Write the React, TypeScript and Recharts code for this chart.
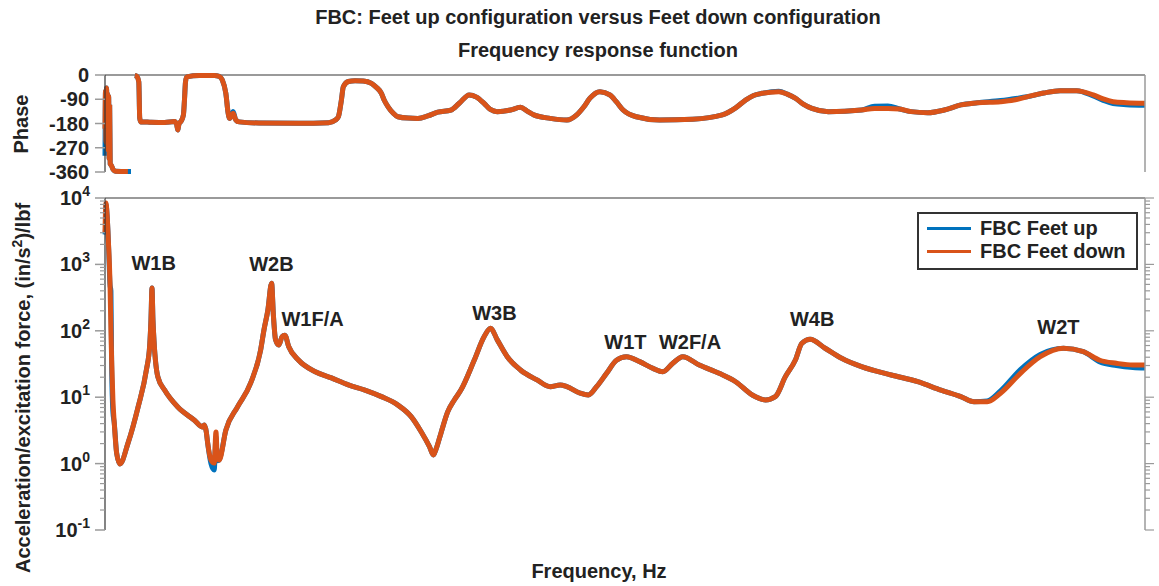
import React from "react";
import {
  LineChart,
  Line,
  XAxis,
  YAxis,
  ReferenceLine,
  ReferenceDot,
  Legend,
} from "recharts";

const FONT = '"Liberation Sans", Arial, Helvetica, sans-serif';
const BLUE = "#0072BD";
const ORANGE = "#D95319";
const FRAME = "#9a9a9a";
const INK = "#222";

// magnitude, (in/s^2)/lbf vs frequency
const magFreq = [
  0, 0.5, 1, 2, 3.2, 4.8, 5.7, 6.4, 7.6, 8.9,
  11.2, 14.3, 22.2, 31.8, 39.8, 43, 44.2, 45.2, 46.1, 47.1,
  50.9, 57.3, 70, 86, 93.9, 95.5, 97.4, 98.7, 101.9, 105,
  106.7, 107.9, 109.8, 116.2, 127.3, 140.1, 149.6, 152.8, 156.6, 160.2,
  161.9, 164, 167.1, 170.3, 172.9, 176.7, 186.2, 202.2, 217.7, 234,
  249.9, 265.8, 281.7, 294.4, 304, 312, 315.8, 318, 323.1, 329.5,
  335.9, 342.2, 355, 364.5, 370.8, 377.2, 386.8, 399.5, 415.4, 428.1,
  437.7, 444.1, 456.8, 464.8, 472.7, 482.3, 491.8, 501.4, 514.1, 526.9,
  536.4, 546, 555.5, 571.4, 590.5, 606.4, 622.4, 635.1, 644.6, 654.2,
  663.7, 670.1, 678, 692.4, 708.3, 727.4, 756, 781.5, 803.8, 822.9,
  835.6, 848.3, 861.1, 880.2, 899.3, 921.6, 940.7, 956.6, 972.5, 988.4,
  1000,
];
const magDown = [
  3080, 6600, 8400, 5540, 2330, 525, 103, 36, 9.1, 4.1,
  1.44, 0.99, 2.05, 7.1, 25.7, 61, 146, 440, 146, 72,
  20, 12.8, 7.1, 4.5, 3.56, 3.8, 3.0, 2.05, 1.13, 1.02,
  3.0, 1.35, 1.13, 3.2, 7.1, 16.4, 51, 102, 205, 520,
  173, 73, 61, 81.5, 86, 57.5, 36, 24.2, 19.5, 15.3,
  12.8, 10.2, 7.6, 5.1, 3.02, 1.8, 1.35, 1.6, 2.9, 6.0,
  9.1, 12.8, 36, 81.5, 109, 73, 40.7, 25.7, 18.2, 14.4,
  15.3, 14.4, 11.5, 10.8, 14.4, 22.9, 36, 40.7, 34.3, 27.2,
  24.2, 32.4, 40.7, 30.5, 22.9, 17.1, 10.8, 9.1, 10.2, 20.4,
  36, 64.9, 74.5, 54.6, 38.5, 28.8, 21.6, 17.1, 12.8, 10.2,
  8.55, 8.55, 11.5, 22.9, 40.7, 54.6, 48.4, 36, 32.4, 30.5,
  30.5,
];
const magUp = [
  2800, 3500, 8000, 5540, 2330, 500, 400, 30, 6, 4.1,
  1.44, 0.99, 2.05, 7.1, 25.7, 61, 146, 440, 146, 72,
  20, 12.8, 7.1, 4.5, 3.56, 3.8, 3.0, 2.05, 1.0, 0.8,
  2.5, 1.1, 1.13, 3.2, 7.1, 16.4, 51, 102, 205, 520,
  173, 73, 61, 81.5, 86, 57.5, 36, 24.2, 19.5, 15.3,
  12.8, 10.2, 7.6, 5.1, 3.02, 1.8, 1.35, 1.6, 2.9, 6.0,
  9.1, 12.8, 36, 81.5, 109, 73, 40.7, 25.7, 18.2, 14.4,
  15.3, 14.4, 11.5, 10.8, 14.4, 22.9, 36, 40.7, 34.3, 27.2,
  24.2, 32.4, 40.7, 30.5, 22.9, 17.1, 10.8, 9.1, 10.2, 20.4,
  36, 64.9, 74.5, 54.6, 38.5, 28.8, 21.6, 17.1, 12.8, 10.2,
  8.55, 8.8, 12.5, 26, 44, 54.6, 48.4, 34, 30, 28,
  27.5,
];

// phase, degrees (null = gap in the trace)
const phaseFreq = [
  0, 0.5, 1, 1.5, 2, 2.5, 3, 3.5, 4, 4.5,
  5, 6, 8, 10, 22, 25, 27.5, 28.7, 30.6, 32.5,
  33.4, 34.4, 43, 57.3, 66.8, 68.8, 70, 71.1, 73.2, 75.4,
  76.4, 77.4, 78.6, 90.7, 105, 109.8, 112.7, 116.2, 118.4, 119.8,
  121.8, 123.2, 125.8, 129, 148, 186, 215, 221.6, 224.4, 227.3,
  229.2, 234, 240.4, 248.3, 256.2, 260.7, 265.8, 268.4, 272.2, 277,
  281.7, 291.3, 300.8, 310.4, 320, 332.6, 340.9, 350.2, 357.2, 364.5,
  370.5, 377.2, 389.9, 399.5, 405.9, 412.3, 428.1, 444.1, 453.6, 460.3,
  466.3, 475.9, 485.4, 491.8, 498.2, 510.9, 533.2, 565, 593.6, 606.4,
  615.9, 623.6, 631.9, 647.8, 656, 663.7, 671.4, 679.7, 695.5, 727.4,
  740, 752.8, 764, 775.2, 791, 807, 822.9, 838.8, 861.1, 873.8,
  886.5, 902.5, 918.4, 934.3, 950.2, 959.8, 969.3, 982, 1000,
];
const phaseDown = [
  -200, -60, -250, -48, -230, -70, -280, -80, -310, -120,
  -330, -335, -352, -357, -358, null, null, -2, -5, -26,
  -160, -174, -175, -176, -173, -182, -204, -182, -171, -148,
  -93, -26, -7, -2, -2, -5, -18, -68, -141, -161,
  -152, -142, -167, -174, -178, -179, -177, -167, -155, -93,
  -43, -24, -21, -22, -31, -45, -68, -93, -118, -141,
  -155, -160, -161, -152, -138, -130, -104, -74, -82, -105,
  -128, -136, -130, -120, -134, -148, -161, -167, -148, -119,
  -86, -62, -74, -100, -130, -155, -167, -164, -148, -122,
  -93, -76, -68, -62, -71, -86, -108, -124, -136, -130,
  -124, -124, -126, -136, -140, -130, -111, -103, -99, -93,
  -81, -67, -58, -58, -74, -89, -99, -103, -105,
];
const phaseUp = [
  -300, -60, -290, -48, -230, -70, -280, -80, -310, -120,
  -330, -335, -352, -357, -358, -358, null, -2, -5, -26,
  -160, -174, -175, -176, -173, -182, -204, -182, -171, -148,
  -93, -26, -7, -2, -2, -5, -18, -68, -141, -161,
  -150, -135, -167, -174, -178, -179, -177, -167, -155, -93,
  -43, -24, -21, -22, -31, -45, -68, -93, -118, -141,
  -155, -160, -161, -152, -138, -130, -104, -74, -82, -105,
  -128, -136, -130, -120, -134, -148, -161, -167, -148, -119,
  -86, -62, -74, -100, -130, -155, -167, -164, -148, -122,
  -93, -76, -68, -60, -71, -86, -108, -124, -136, -130,
  -116, -115, -126, -136, -140, -130, -111, -103, -95, -88,
  -81, -67, -58, -58, -78, -94, -106, -110, -112,
];

const seriesNames = ["FBC Feet up", "FBC Feet down"];
const phaseTicks = [-360, -270, -180, -90, 0];
const magMajor = [0.1, 1, 10, 100, 1000, 10000];
const magMinor = [
  0.2, 0.3, 0.4, 0.5, 0.6, 0.7, 0.8, 0.9,
  2, 3, 4, 5, 6, 7, 8, 9,
  20, 30, 40, 50, 60, 70, 80, 90,
  200, 300, 400, 500, 600, 700, 800, 900,
  2000, 3000, 4000, 5000, 6000, 7000, 8000, 9000,
];

// mode labels: name, frequency, height on the magnitude axis
const modeNames = ["W1B", "W2B", "W1F/A", "W3B", "W1T", "W2F/A", "W4B", "W2T"];
const modeFreq = [46.8, 160, 199.6, 374.4, 500.4, 562.5, 680, 916.8];
const modeLevel = [1070, 1030, 151, 189, 69, 69, 153, 116];

const magRows = magFreq.map((f, i) => ({ f, up: magUp[i], down: magDown[i] }));
const phaseRows = phaseFreq.map((f, i) => ({ f, up: phaseUp[i], down: phaseDown[i] }));

const txt = { fontFamily: FONT, fontWeight: "bold" as const, fill: INK };

function PhaseTickLeft({ x, y, payload }: any) {
  return (
    <g>
      <line x1={x - 10} y1={y} x2={x} y2={y} stroke={FRAME} strokeWidth={1.5} />
      <text x={x - 16} y={y} dy={7} textAnchor="end" fontSize={20} {...txt}>
        {payload.value}
      </text>
    </g>
  );
}

function PhaseTickRight({ x, y }: any) {
  return <line x1={x} y1={y} x2={x + 8} y2={y} stroke={FRAME} strokeWidth={1.5} />;
}

function MagTickLeft({ x, y, payload }: any) {
  const v = payload.value as number;
  const major = magMajor.includes(v);
  if (!major) {
    return <line x1={x - 5} y1={y} x2={x} y2={y} stroke={FRAME} strokeWidth={1.2} />;
  }
  const exp = Math.round(Math.log10(v));
  return (
    <g>
      <line x1={x - 10} y1={y} x2={x} y2={y} stroke={FRAME} strokeWidth={1.5} />
      <text x={x - 15} y={y} dy={7} textAnchor="end" fontSize={20} {...txt}>
        <tspan>10</tspan>
        <tspan dy={-9} fontSize={14}>
          {exp}
        </tspan>
      </text>
    </g>
  );
}

function MagTickRight({ x, y, payload }: any) {
  const major = magMajor.includes(payload.value);
  return (
    <line x1={x} y1={y} x2={x + (major ? 9 : 5)} y2={y} stroke={FRAME} strokeWidth={1.2} />
  );
}

function LegendBox({ payload }: any) {
  const items = [...(payload ?? [])].sort(
    (a: any, b: any) => seriesNames.indexOf(a.value) - seriesNames.indexOf(b.value)
  );
  return (
    <div
      style={{
        position: "relative",
        width: 221,
        height: 58,
        border: "2px solid #333",
        boxSizing: "border-box",
        background: "#fff",
        fontFamily: FONT,
        fontWeight: "bold",
        fontSize: 20,
        color: INK,
      }}
    >
      {items.map((p: any, i: number) => (
        <div
          key={p.value}
          style={{ position: "absolute", left: 0, top: 3 + i * 23, height: 23, lineHeight: "23px" }}
        >
          <span
            style={{
              position: "absolute",
              left: 8,
              top: 10,
              width: 44,
              height: 3,
              background: p.color,
            }}
          />
          <span style={{ position: "absolute", left: 61, whiteSpace: "nowrap" }}>{p.value}</span>
        </div>
      ))}
    </div>
  );
}

export default function App() {
  return (
    <div style={{ position: "absolute", left: 0, top: 0, width: 1159, height: 586, background: "#fff" }}>
      <svg width={1159} height={586} style={{ position: "absolute", left: 0, top: 0 }}>
        <text x={598} y={24} textAnchor="middle" fontSize={20} {...txt}>
          FBC: Feet up configuration versus Feet down configuration
        </text>
        <text x={598} y={57} textAnchor="middle" fontSize={20} {...txt}>
          Frequency response function
        </text>
        <text transform="translate(28,124) rotate(-90)" textAnchor="middle" fontSize={20} {...txt}>
          Phase
        </text>
        <text transform="translate(30,388) rotate(-90)" textAnchor="middle" fontSize={20} {...txt}>
          Acceleration/excitation force, (in/s
          <tspan dy={-8} fontSize={14}>2</tspan>
          <tspan dy={8}>)/lbf</tspan>
        </text>
        <text x={599} y={578} textAnchor="middle" fontSize={20} {...txt}>
          Frequency, Hz
        </text>
      </svg>

      <div style={{ position: "absolute", left: 0, top: 0 }}>
        <LineChart
          width={1159}
          height={200}
          data={phaseRows}
          margin={{ top: 75, right: 7, bottom: 28, left: 0 }}
          style={{ overflow: "visible" }}
        >
          <XAxis
            type="number"
            dataKey="f"
            domain={[0, 1000]}
            tick={false}
            tickLine={false}
            height={0}
            axisLine={{ stroke: FRAME, strokeWidth: 2 }}
          />
          <YAxis
            yAxisId="p"
            domain={[-360, 0]}
            ticks={phaseTicks}
            width={105}
            tickSize={0}
            tickMargin={0}
            tickLine={false}
            axisLine={{ stroke: "#333", strokeWidth: 1.2 }}
            tick={(p: any) => <PhaseTickLeft {...p} />}
          />
          <YAxis
            yAxisId="pr"
            orientation="right"
            domain={[-360, 0]}
            ticks={phaseTicks}
            width={7}
            tickSize={0}
            tickMargin={0}
            tickLine={false}
            axisLine={{ stroke: FRAME, strokeWidth: 1.5 }}
            tick={(p: any) => <PhaseTickRight {...p} />}
          />
          <ReferenceLine yAxisId="p" y={0} stroke={FRAME} strokeWidth={2} />
          <Line
            yAxisId="p"
            type="monotone"
            dataKey="up"
            stroke={BLUE}
            strokeWidth={5}
            dot={false}
            isAnimationActive={false}
          />
          <Line
            yAxisId="p"
            type="monotone"
            dataKey="down"
            stroke={ORANGE}
            strokeWidth={5}
            dot={false}
            isAnimationActive={false}
          />
        </LineChart>
      </div>

      <div style={{ position: "absolute", left: 0, top: 0 }}>
        <LineChart
          width={1159}
          height={586}
          data={magRows}
          margin={{ top: 198, right: 7, bottom: 56, left: 0 }}
          style={{ overflow: "visible" }}
        >
          <XAxis
            type="number"
            dataKey="f"
            domain={[0, 1000]}
            tick={false}
            tickLine={false}
            height={0}
            axisLine={{ stroke: FRAME, strokeWidth: 2 }}
          />
          <YAxis
            yAxisId="m"
            scale="log"
            domain={[0.1, 10000]}
            allowDataOverflow
            ticks={[...magMajor, ...magMinor]}
            width={105}
            tickSize={0}
            tickMargin={0}
            tickLine={false}
            interval={0}
            axisLine={{ stroke: "#333", strokeWidth: 1.2 }}
            tick={(p: any) => <MagTickLeft {...p} />}
          />
          <YAxis
            yAxisId="mr"
            orientation="right"
            scale="log"
            domain={[0.1, 10000]}
            allowDataOverflow
            ticks={[...magMajor, ...magMinor]}
            width={7}
            tickSize={0}
            tickMargin={0}
            tickLine={false}
            interval={0}
            axisLine={{ stroke: FRAME, strokeWidth: 1.5 }}
            tick={(p: any) => <MagTickRight {...p} />}
          />
          <ReferenceLine yAxisId="m" y={10000} stroke={FRAME} strokeWidth={2} />
          <Legend
            layout="horizontal"
            verticalAlign="middle"
            align="center"
            content={(p: any) => <LegendBox {...p} />}
            wrapperStyle={{ left: 917, top: 212, width: 221, height: 58 }}
          />
          <Line
            yAxisId="m"
            type="monotone"
            name="FBC Feet up"
            dataKey="up"
            stroke={BLUE}
            strokeWidth={5}
            dot={false}
            isAnimationActive={false}
          />
          <Line
            yAxisId="m"
            type="monotone"
            name="FBC Feet down"
            dataKey="down"
            stroke={ORANGE}
            strokeWidth={5}
            dot={false}
            isAnimationActive={false}
          />
          {modeNames.map((name, i) => (
            <ReferenceDot
              key={name}
              yAxisId="m"
              x={modeFreq[i]}
              y={modeLevel[i]}
              r={1}
              fill="none"
              stroke="none"
              ifOverflow="visible"
              label={{
                value: name,
                position: "center",
                fill: INK,
                fontSize: 20,
                fontWeight: "bold",
                fontFamily: FONT,
              }}
            />
          ))}
        </LineChart>
      </div>
    </div>
  );
}
